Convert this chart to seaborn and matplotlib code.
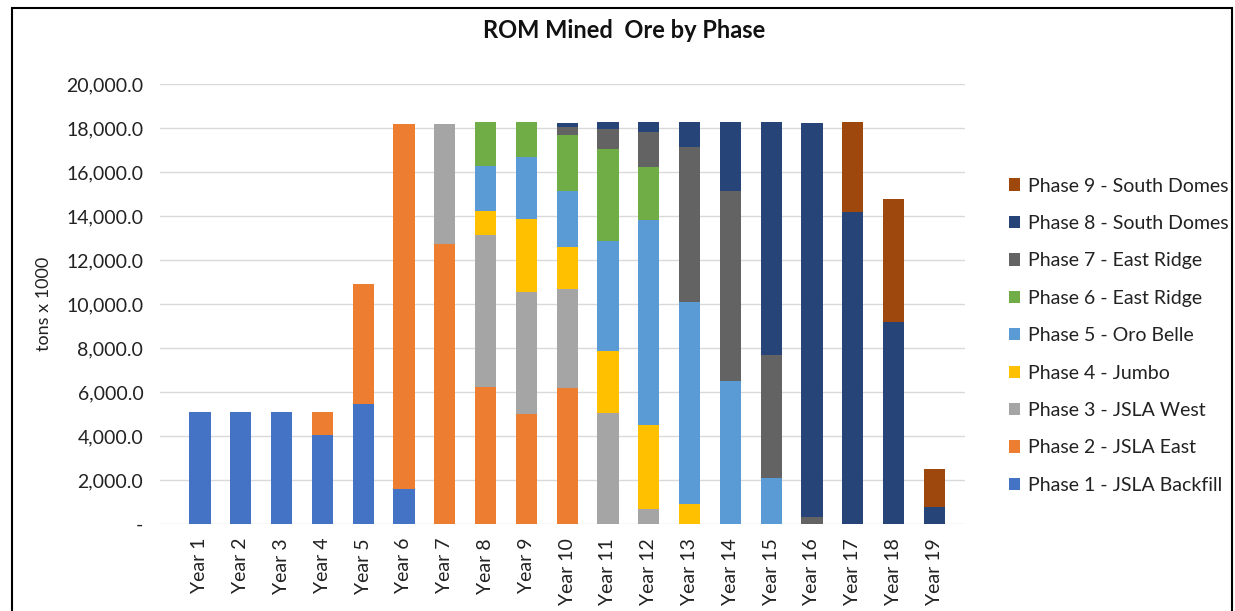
import numpy as np
import pandas as pd
import matplotlib.pyplot as plt
import seaborn as sns
from matplotlib.patches import Patch, Rectangle
from matplotlib.ticker import FuncFormatter

# --------------------------
# data (tons x 1000)
# --------------------------
years = [f"Year {i}" for i in range(1, 20)]
phases = [
    "Phase 1 - JSLA Backfill",
    "Phase 2 - JSLA East",
    "Phase 3 - JSLA West",
    "Phase 4 - Jumbo",
    "Phase 5 - Oro Belle",
    "Phase 6 - East Ridge",
    "Phase 7 - East Ridge",
    "Phase 8 - South Domes",
    "Phase 9 - South Domes",
]
phase1 = [5090, 5090, 5090, 4050, 5470, 1600, 0, 0, 0, 0, 0, 0, 0, 0, 0, 0, 0, 0, 0]
phase2 = [0, 0, 0, 1050, 5450, 16600, 12740, 6230, 5010, 6180, 0, 0, 0, 0, 0, 0, 0, 0, 0]
phase3 = [0, 0, 0, 0, 0, 0, 5460, 6890, 5535, 4490, 5060, 700, 0, 0, 0, 0, 0, 0, 0]
phase4 = [0, 0, 0, 0, 0, 0, 0, 1090, 3335, 1920, 2790, 3810, 925, 0, 0, 0, 0, 0, 0]
phase5 = [0, 0, 0, 0, 0, 0, 0, 2060, 2800, 2530, 5000, 9290, 9165, 6485, 2090, 0, 0, 0, 0]
phase6 = [0, 0, 0, 0, 0, 0, 0, 2000, 1590, 2550, 4180, 2430, 0, 0, 0, 0, 0, 0, 0]
phase7 = [0, 0, 0, 0, 0, 0, 0, 0, 0, 370, 940, 1590, 7040, 8635, 5580, 320, 0, 0, 0]
phase8 = [0, 0, 0, 0, 0, 0, 0, 0, 0, 200, 300, 450, 1140, 3150, 10600, 17900, 14180, 9180, 770]
phase9 = [0, 0, 0, 0, 0, 0, 0, 0, 0, 0, 0, 0, 0, 0, 0, 0, 4090, 5610, 1740]

series = [phase1, phase2, phase3, phase4, phase5, phase6, phase7, phase8, phase9]
colors = ["#4472C4", "#ED7D31", "#A5A5A5", "#FFC000", "#5B9BD5",
          "#70AD47", "#636363", "#264478", "#9E480E"]

rows = []
for name, vals in zip(phases, series):
    for i, v in enumerate(vals):
        rows.append({"year": i, "phase": name, "tons": v})
df = pd.DataFrame(rows)

# --------------------------
# plot
# --------------------------
sns.set_theme(style="white")
plt.rcParams["font.family"] = ["Lato", "DejaVu Sans"]

fig = plt.figure(figsize=(12.35, 6.11), dpi=100)
ax = fig.add_axes([160 / 1235, 1 - 524 / 611, 805 / 1235, 440 / 611])

# seaborn stacks the last hue level at the bottom -> reverse order
order = phases[::-1]
palette = dict(zip(phases, colors))
sns.histplot(data=df, x="year", weights="tons", hue="phase", hue_order=order,
             multiple="stack", discrete=True, shrink=0.52, palette=palette,
             alpha=1, edgecolor="none", linewidth=0, legend=False, ax=ax)

ax.set_xlim(-0.98, 18.75)
ax.set_ylim(0, 20000)
ax.set_yticks(np.arange(0, 20001, 2000))
ax.yaxis.set_major_formatter(FuncFormatter(lambda v, p: "-" if v == 0 else f"{v:,.1f}"))
ax.set_xticks(range(len(years)))
ax.set_xticklabels(years, rotation=90)
ax.tick_params(axis="both", labelsize=14, length=0, colors="#222222")
ax.tick_params(axis="y", pad=12)
ax.tick_params(axis="x", pad=10)
ax.yaxis.grid(True, color="#D9D9D9", linewidth=1)
ax.set_axisbelow(True)
for s in ax.spines.values():
    s.set_visible(False)
ax.set_xlabel("")
ax.set_ylabel("tons x 1000", fontsize=13, labelpad=10, color="#222222")

fig.text(0.505, 1 - 31 / 611, "ROM Mined  Ore by Phase", ha="center", va="center",
         fontsize=17, fontweight="bold", color="#111111")

handles = [Patch(facecolor=palette[p], edgecolor="none", label=p) for p in order]
fig.legend(handles=handles, loc="upper left", bbox_to_anchor=(991 / 1235, 1 - 160 / 611),
           frameon=False, fontsize=14, handlelength=0.6, handleheight=0.6,
           handletextpad=0.4, labelspacing=1.05, labelcolor="#222222")

# chart border
fig.patches.append(Rectangle((12 / 1235, -0.05), 1220 / 1235, 1.05 - 8 / 611,
                             transform=fig.transFigure, fill=False,
                             edgecolor="black", linewidth=1.5))

fig.savefig("out.png", dpi=100)
